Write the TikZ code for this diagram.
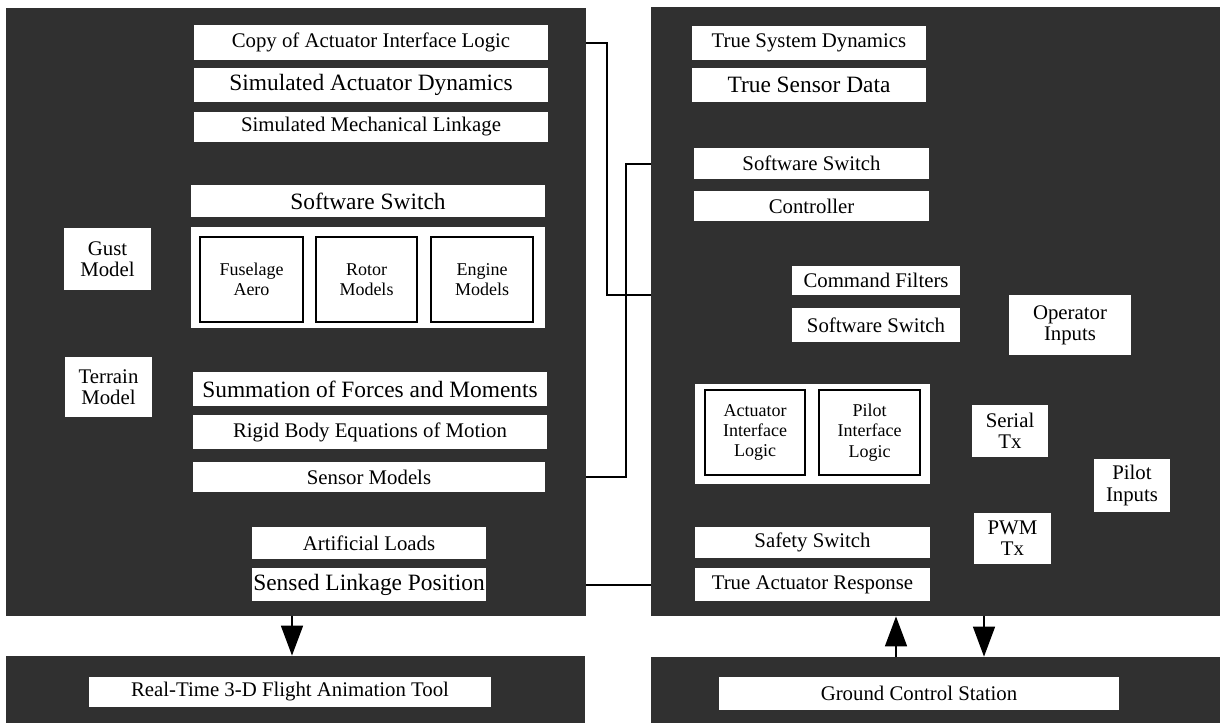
\documentclass[tikz,border=0pt]{standalone}
\usepackage{fontspec}
\setmainfont{Liberation Serif}
\usetikzlibrary{arrows.meta}
\definecolor{panelgray}{RGB}{48,48,48}

\begin{document}
\begin{tikzpicture}[x=0.5pt,y=-0.5pt,>={Triangle[length=15pt,width=11pt]},
  area/.style args={#1,#2,#3,#4}{at={({(#1+#3)/2},{(#2+#4)/2})},
    minimum width={(#3-#1)*0.5pt},minimum height={(#4-#2)*0.5pt}},
  panel/.style={fill=panelgray,inner sep=0pt,area={#1}},
  box/.style={fill=white,inner sep=0pt,align=center,area={#1},
    font=\fontsize{10.4}{10.6}\selectfont},
  big/.style={box={#1},font=\fontsize{11.7}{13}\selectfont},
  small/.style={box={#1},draw=black,line width=0.8pt,font=\fontsize{9}{10.2}\selectfont},
  wire/.style={line width=1pt},
  flow/.style={line width=0.8pt,->}]
  \useasboundingbox (0,0) rectangle (1220,723);
  \node[panel={6,8,586,616}] (lp) {};
  \node[panel={651,7,1220,616}] (rp) {};
  \node[panel={6,656,585,723}] (blp) {};
  \node[panel={651,657,1220,723}] (brp) {};

  \node[box={194,25,548,60}] (copy) {Copy of Actuator Interface Logic};
  \node[big={194,68,548,102}] (simact) {Simulated Actuator Dynamics};
  \node[box={194,112,548,142}] (simmech) {Simulated Mechanical Linkage};
  \node[big={191,185,545,217}] (swl) {Software Switch};
  \node[box={191,227,545,328}] (models) {};
  \node[small={200,237,303,322}] (fus) {Fuselage\\Aero};
  \node[small={316,237,417,322}] (rotor) {Rotor\\Models};
  \node[small={431,237,533,322}] (engine) {Engine\\Models};
  \node[box={64,228,151,290}] (gust) {Gust\\Model};
  \node[box={65,357,152,417}] (terrain) {Terrain\\Model};
  \node[big={193,372,547,406}] (summ) {Summation of Forces and Moments};
  \node[box={193,415,547,449}] (rigid) {Rigid Body Equations of Motion};
  \node[box={193,462,545,492}] (sensor) {Sensor Models};
  \node[box={252,527,486,559}] (artif) {Artificial Loads};
  \node[big={252,568,486,601}] (sensed) {Sensed Linkage Position};
  \node[box={89,677,491,707}] (anim) {Real-Time 3-D Flight Animation Tool};

  \node[box={692,26,926,60}] (tsd) {True System Dynamics};
  \node[big={692,68,926,102}] (tsens) {True Sensor Data};
  \node[box={694,148,929,179}] (swr) {Software Switch};
  \node[box={694,191,929,221}] (ctrl) {Controller};
  \node[box={792,266,960,295}] (cmdf) {Command Filters};
  \node[box={792,308,960,342}] (swr2) {Software Switch};
  \node[box={1009,295,1131,355}] (opin) {Operator\\Inputs};
  \node[box={695,384,930,484}] (logic) {};
  \node[small={705,390,805,475}] (acti) {Actuator\\Interface\\Logic};
  \node[small={819,390,920,475}] (pili) {Pilot\\Interface\\Logic};
  \node[box={972,405,1048,457}] (serial) {Serial\\Tx};
  \node[box={1094,459,1170,512}] (pilin) {Pilot\\Inputs};
  \node[box={974,513,1051,564}] (pwm) {PWM\\Tx};
  \node[box={695,527,930,558}] (safety) {Safety Switch};
  \node[box={695,568,930,601}] (tar) {True Actuator Response};
  \node[box={719,677,1119,710}] (gcs) {Ground Control Station};

  \coordinate (busa) at (607,0);
  \coordinate (busb) at (626,0);
  \coordinate (aa) at (292,0);
  \coordinate (ab) at (896,0);
  \coordinate (ac) at (984,0);
  \draw[wire] (lp.east |- copy.east) -| (busa |- cmdf.south) -- (rp.west |- cmdf.south);
  \draw[wire] (lp.east |- sensor.east) -| (busb |- swr.west) -- (rp.west |- swr.west);
  \draw[wire] (lp.east |- sensed.east) -- (rp.west |- sensed.east);
  \draw[flow] (lp.south -| aa) -- (blp.north -| aa);
  \draw[flow] (brp.north -| ab) -- (rp.south -| ab);
  \draw[flow] (rp.south -| ac) -- (brp.north -| ac);
\end{tikzpicture}
\end{document}
